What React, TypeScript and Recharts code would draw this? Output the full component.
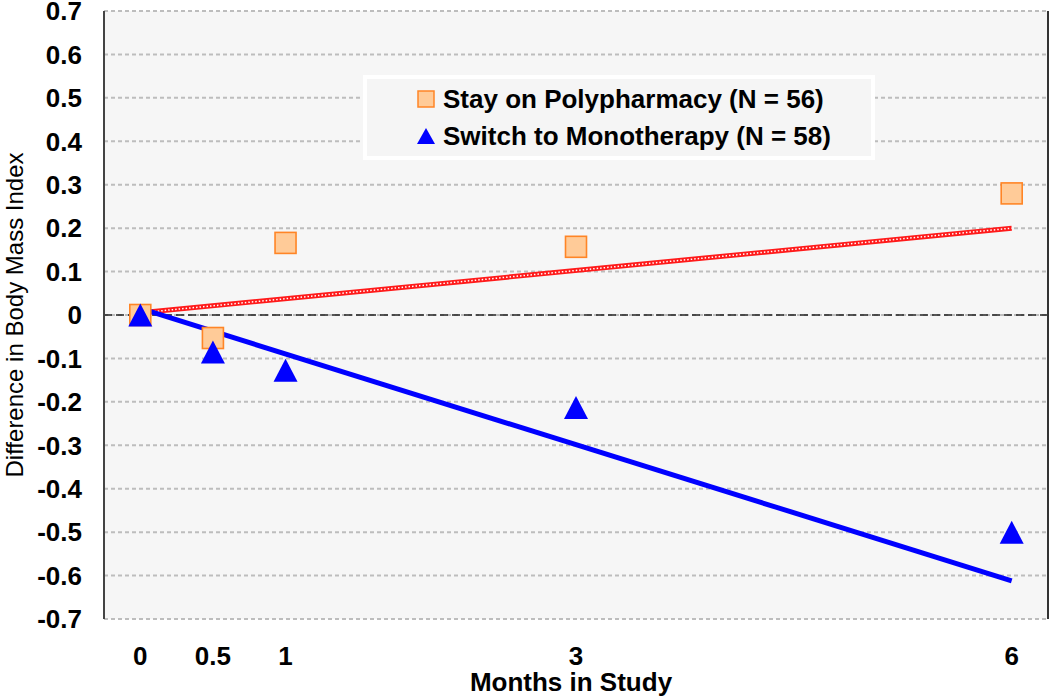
import React from "react";
import {
  ComposedChart,
  Line,
  Scatter,
  XAxis,
  YAxis,
  CartesianGrid,
  ReferenceLine,
} from "recharts";

// observed means at each visit (months)
const months = [0, 0.5, 1, 3, 6];
const polyValues = [0.0, -0.053, 0.166, 0.157, 0.28];
const monoValues = [0.0, -0.085, -0.127, -0.213, -0.5];

// fitted trend lines (start / end)
const trendMonths = [0, 6];
const polyTrend = [0.005, 0.2];
const monoTrend = [0.015, -0.612];

const xTicks = [0, 0.5, 1, 3, 6];
const yTicks = [0.7, 0.6, 0.5, 0.4, 0.3, 0.2, 0.1, 0, -0.1, -0.2, -0.3, -0.4, -0.5, -0.6, -0.7];

const legendLabels = ["Stay on Polypharmacy (N = 56)", "Switch to Monotherapy (N = 58)"];

const FONT = "'Liberation Sans', Arial, sans-serif";
const SQUARE_FILL = "#FFCB98";
const SQUARE_STROKE = "#FF8526";
const BLUE = "#0000FF";

const polyData = months.map((m, i) => ({ x: m, y: polyValues[i] }));
const monoData = months.map((m, i) => ({ x: m, y: monoValues[i] }));
const polyTrendData = trendMonths.map((m, i) => ({ x: m, y: polyTrend[i] }));
const monoTrendData = trendMonths.map((m, i) => ({ x: m, y: monoTrend[i] }));

const SquareShape = (props: any) => {
  const { cx, cy } = props;
  const s = 21;
  return (
    <rect
      x={cx - s / 2}
      y={cy - s / 2}
      width={s}
      height={s}
      fill={SQUARE_FILL}
      stroke={SQUARE_STROKE}
      strokeWidth={1.6}
    />
  );
};

const TriangleShape = (props: any) => {
  const { cx, cy } = props;
  const w = 24;
  const h = 23;
  return (
    <polygon
      points={`${cx},${cy - h / 2} ${cx + w / 2},${cy + h / 2} ${cx - w / 2},${cy + h / 2}`}
      fill={BLUE}
    />
  );
};

const fmtY = (v: number) => (Math.abs(v) < 1e-9 ? "0" : v.toFixed(1));

const YTitle = (props: any) => {
  const vb = props.viewBox || { x: 0, y: 0, width: 0, height: 0 };
  const cx = vb.x + 14;
  const cy = vb.y + vb.height / 2;
  return (
    <text
      x={cx}
      y={cy}
      transform={`rotate(-90, ${cx}, ${cy})`}
      textAnchor="middle"
      dominantBaseline="central"
      fontFamily={FONT}
      fontSize={24}
      fill="#000"
    >
      Difference in Body Mass Index
    </text>
  );
};

const XTitle = (props: any) => {
  const vb = props.viewBox || { x: 0, y: 0, width: 0, height: 0 };
  return (
    <text
      x={vb.x + vb.width / 2 - 5}
      y={vb.y + 72}
      textAnchor="middle"
      fontFamily={FONT}
      fontSize={26}
      fontWeight={700}
      fill="#000"
    >
      Months in Study
    </text>
  );
};

function LegendBox() {
  return (
    <div
      style={{
        position: "absolute",
        left: 363,
        top: 75,
        width: 512,
        height: 85,
        boxSizing: "border-box",
        border: "4px solid #ffffff",
        background: "#f5f5f5",
        paddingTop: 1.5,
        paddingLeft: 50,
        fontFamily: FONT,
        fontSize: 26,
        fontWeight: 700,
        color: "#000",
      }}
    >
      {legendLabels.map((label, i) => (
        <div
          key={label}
          style={{ display: "flex", alignItems: "center", height: 37, lineHeight: "37px" }}
        >
          <svg width={22} height={20} style={{ marginRight: 4 }}>
            {i === 0 ? (
              <rect x={1} y={2} width={16} height={16} fill={SQUARE_FILL} stroke={SQUARE_STROKE} strokeWidth={1.5} />
            ) : (
              <polygon points="9,2 18,18 0,18" fill={BLUE} />
            )}
          </svg>
          <span>{label}</span>
        </div>
      ))}
    </div>
  );
}

export default function App() {
  return (
    <div style={{ position: "absolute", left: 0, top: 0, width: 1050, height: 696, background: "#fff" }}>
      <ComposedChart
        width={1050}
        height={696}
        margin={{ top: 11, right: 2, bottom: 0, left: 0 }}
      >
        <CartesianGrid
          vertical={false}
          fill="#f6f6f6"
          stroke="#bdbdbd"
          strokeWidth={2}
          strokeDasharray="4 3"
        />
        <XAxis
          dataKey="x"
          type="number"
          domain={[-0.25, 6.25]}
          ticks={xTicks}
          allowDataOverflow
          axisLine={false}
          tickLine={false}
          tickSize={0}
          tickMargin={28}
          height={77}
          tick={{ fill: "#000", fontSize: 26, fontWeight: 700, fontFamily: FONT }}
          label={{ content: XTitle }}
        />
        <YAxis
          type="number"
          domain={[-0.7, 0.7]}
          ticks={yTicks}
          interval={0}
          allowDataOverflow
          width={104}
          axisLine={{ stroke: "#444", strokeWidth: 2 }}
          tickLine={false}
          tickSize={0}
          tickMargin={22}
          tickFormatter={fmtY}
          tick={{ fill: "#000", fontSize: 26, fontWeight: 700, fontFamily: FONT }}
          label={{ content: YTitle }}
        />
        <ReferenceLine y={0} stroke="#222" strokeWidth={1.5} strokeDasharray="8 4" />
        <ReferenceLine x={6.25} stroke="#333" strokeWidth={2} />
        <Line
          data={polyTrendData}
          dataKey="y"
          type="linear"
          stroke="#ff1a1a"
          strokeWidth={5}
          dot={false}
          activeDot={false}
          legendType="none"
          isAnimationActive={false}
        />
        <Line
          data={polyTrendData}
          dataKey="y"
          type="linear"
          stroke="#ffffff"
          strokeWidth={1.5}
          strokeDasharray="1.5 2"
          dot={false}
          activeDot={false}
          legendType="none"
          isAnimationActive={false}
        />
        <Line
          data={monoTrendData}
          dataKey="y"
          type="linear"
          stroke={BLUE}
          strokeWidth={5}
          dot={false}
          activeDot={false}
          legendType="none"
          isAnimationActive={false}
        />
        <Scatter
          data={polyData}
          dataKey="y"
          shape={SquareShape}
          isAnimationActive={false}
        />
        <Scatter
          data={monoData}
          dataKey="y"
          shape={TriangleShape}
          isAnimationActive={false}
        />
      </ComposedChart>
      <LegendBox />
    </div>
  );
}
